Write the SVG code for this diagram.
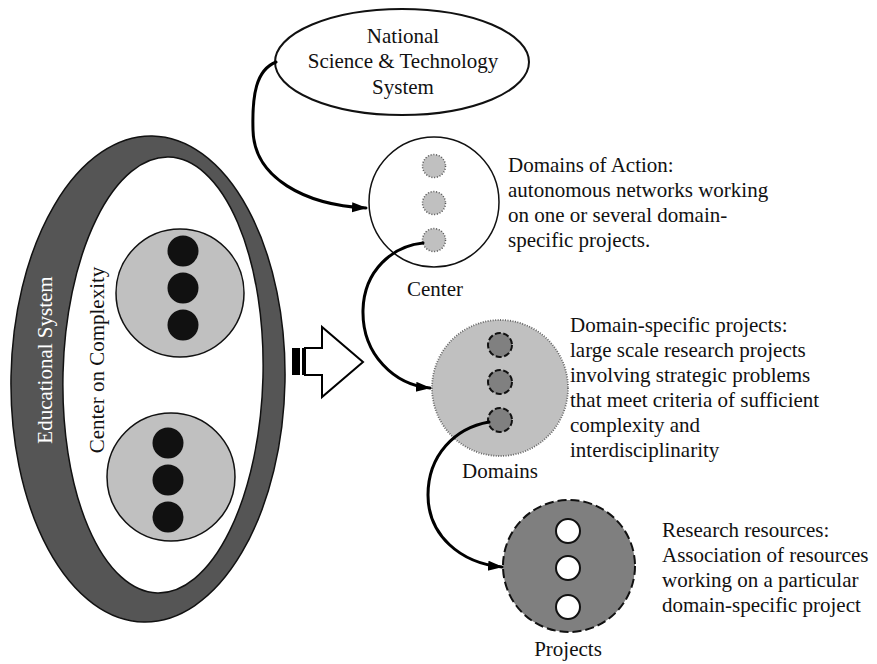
<svg xmlns="http://www.w3.org/2000/svg" width="877" height="664" viewBox="0 0 877 664">
<style>
text{font-family:"Liberation Serif","Times New Roman",serif;font-size:21px;fill:#111}
.mid{text-anchor:middle}
.conn{fill:none;stroke:#000;stroke-width:3;stroke-linecap:round}
.gray{fill:#c0c0c0;stroke:#111;stroke-width:1.5}
.blk{fill:#111}
</style>
<defs>
<marker id="ah" markerUnits="userSpaceOnUse" markerWidth="16" markerHeight="12" refX="14" refY="5" orient="auto">
<path d="M0,0 L15,5 L0,10 z" fill="#000"/>
</marker>
</defs>
<rect width="877" height="664" fill="#fff"/>

<g id="educational-system">
<ellipse cx="148" cy="379" rx="137" ry="243" transform="rotate(1 148 379)" fill="#555" stroke="#111" stroke-width="1.5"/>
<ellipse cx="163" cy="375" rx="100" ry="218" transform="rotate(1.5 163 375)" fill="#fff" stroke="#111" stroke-width="1.5"/>
<text transform="translate(52 360) rotate(-90)" class="mid" style="fill:#fff">Educational System</text>
</g>

<g id="center-on-complexity">
<text transform="translate(104 360) rotate(-90)" class="mid">Center on Complexity</text>
<circle class="gray" cx="180" cy="293" r="64"/>
<circle class="blk" cx="183" cy="251" r="15.5"/>
<circle class="blk" cx="183" cy="288" r="15.5"/>
<circle class="blk" cx="183" cy="325" r="15.5"/>
<circle class="gray" cx="171" cy="477" r="64"/>
<circle class="blk" cx="168" cy="443" r="15.5"/>
<circle class="blk" cx="168" cy="480" r="15.5"/>
<circle class="blk" cx="168" cy="517" r="15.5"/>
</g>

<g id="big-arrow">
<rect x="292" y="348" width="8" height="27" fill="#000"/>
<rect x="302" y="348" width="3" height="27" fill="#000"/>
<polygon points="305,348 322,348 322,327 363,362 322,397 322,375 305,375" fill="#fff" stroke="#000" stroke-width="2" stroke-linejoin="miter"/>
</g>

<g id="national-system">
<ellipse cx="402" cy="62" rx="127" ry="53" fill="#fff" stroke="#111" stroke-width="2"/>
<text x="403" y="43" class="mid">National</text>
<text x="403" y="68" class="mid">Science &amp; Technology</text>
<text x="403" y="94" class="mid">System</text>
</g>

<g id="center">
<circle cx="434" cy="202" r="65" fill="#fff" stroke="#111" stroke-width="1.5"/>
<circle cx="434" cy="166" r="11.5" fill="#c0c0c0" stroke="#555" stroke-width="1.5" stroke-dasharray="1 1.8"/>
<circle cx="434" cy="203" r="11.5" fill="#c0c0c0" stroke="#555" stroke-width="1.5" stroke-dasharray="1 1.8"/>
<circle cx="434" cy="240" r="11.5" fill="#c0c0c0" stroke="#555" stroke-width="1.5" stroke-dasharray="1 1.8"/>
<text x="435" y="296" class="mid">Center</text>
</g>

<g id="domains">
<circle cx="500" cy="388" r="68" fill="#c0c0c0" stroke="#666" stroke-width="1.8" stroke-dasharray="1 1.5"/>
<circle cx="500" cy="345" r="12" fill="#808080" stroke="#111" stroke-width="2" stroke-dasharray="6 2.5"/>
<circle cx="500" cy="382" r="12" fill="#808080" stroke="#111" stroke-width="2" stroke-dasharray="6 2.5"/>
<circle cx="500" cy="420" r="12" fill="#808080" stroke="#111" stroke-width="2" stroke-dasharray="6 2.5"/>
<text x="500" y="478" class="mid">Domains</text>
</g>

<g id="projects">
<circle cx="569" cy="566" r="66" fill="#7f7f7f" stroke="#111" stroke-width="2" stroke-dasharray="9 4"/>
<circle cx="568" cy="531" r="12" fill="#fff" stroke="#111" stroke-width="2"/>
<circle cx="568" cy="568" r="12" fill="#fff" stroke="#111" stroke-width="2"/>
<circle cx="568" cy="607" r="12" fill="#fff" stroke="#111" stroke-width="2"/>
<text x="568" y="656" class="mid">Projects</text>
</g>

<g id="connectors">
<path class="conn" d="M 276 62 C 256 70, 252 95, 253 130 C 254 178, 305 205, 366 208" marker-end="url(#ah)"/>
<path class="conn" d="M 423 243 C 393 246, 364 270, 363 310 C 362 355, 395 385, 430 388" marker-end="url(#ah)"/>
<path class="conn" d="M 489 422 C 455 428, 428 455, 428 495 C 428 535, 460 563, 502 567" marker-end="url(#ah)"/>
</g>

<g id="descriptions">
<text x="508" y="172">Domains of Action:</text>
<text x="508" y="197">autonomous networks working</text>
<text x="508" y="222">on one or several domain-</text>
<text x="508" y="247">specific projects.</text>
<text x="570" y="332">Domain-specific projects:</text>
<text x="570" y="357">large scale research projects</text>
<text x="570" y="382">involving strategic problems</text>
<text x="570" y="407">that meet criteria of sufficient</text>
<text x="570" y="432">complexity and</text>
<text x="570" y="457">interdisciplinarity</text>
<text x="662" y="537">Research resources:</text>
<text x="662" y="562">Association of resources</text>
<text x="662" y="587">working on a particular</text>
<text x="662" y="612">domain-specific project</text>
</g>
</svg>
